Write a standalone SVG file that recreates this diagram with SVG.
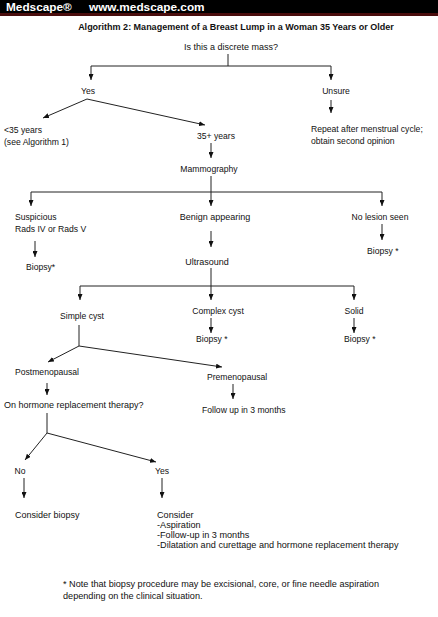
<svg xmlns="http://www.w3.org/2000/svg" width="438" height="617" viewBox="0 0 438 617">
<style>
text{font-family:"Liberation Sans",Arial,sans-serif;font-size:8.6px;fill:#111}
.m{text-anchor:middle}
.hd{font-size:11.8px;font-weight:bold;fill:#fff}
.title{font-size:9px;font-weight:bold}
.big{font-size:9px}
.lg{font-size:9.15px}
.c line,.c path{stroke:#222;stroke-width:1;fill:none}
.a{marker-end:url(#ah)}
</style>
<defs>
<marker id="ah" viewBox="0 0 6 5" refX="6" refY="2.5" markerWidth="6" markerHeight="5" markerUnits="userSpaceOnUse" orient="auto">
<path d="M0,0 L6,2.5 L0,5 z" fill="#111"/>
</marker>
</defs>
<rect width="438" height="617" fill="#fff"/>
<g id="header">
<rect x="0" y="0" width="438" height="13" fill="#000"/>
<rect x="0" y="13" width="438" height="3" fill="#4a0d0d"/>
<text class="hd" x="6" y="11">Medscape®</text>
<text class="hd" x="89" y="11">www.medscape.com</text>
</g>
<g id="title"><text class="title m" x="236" y="30">Algorithm 2: Management of a Breast Lump in a Woman 35 Years or Older</text></g>
<g class="c" id="connectors">
<line x1="228" y1="54" x2="228" y2="66"/>
<line x1="91" y1="66" x2="331" y2="66"/>
<line class="a" x1="91" y1="66" x2="91" y2="80"/>
<line class="a" x1="331" y1="66" x2="331" y2="80"/>
<line class="a" x1="87" y1="99" x2="43" y2="118"/>
<line class="a" x1="87" y1="99" x2="205" y2="125"/>
<line class="a" x1="331" y1="100" x2="331" y2="113"/>
<line class="a" x1="211" y1="143" x2="211" y2="158"/>
<line x1="211" y1="176" x2="211" y2="192"/>
<line x1="31" y1="192" x2="382" y2="192"/>
<line class="a" x1="31" y1="192" x2="31" y2="206"/>
<line class="a" x1="211" y1="192" x2="211" y2="206"/>
<line class="a" x1="382" y1="192" x2="382" y2="206"/>
<line class="a" x1="35" y1="241" x2="35" y2="257"/>
<line class="a" x1="211" y1="231" x2="211" y2="247"/>
<line class="a" x1="382" y1="224" x2="382" y2="240"/>
<line x1="211" y1="268" x2="211" y2="286"/>
<line x1="80" y1="286" x2="354" y2="286"/>
<line class="a" x1="80" y1="286" x2="80" y2="300"/>
<line class="a" x1="211" y1="286" x2="211" y2="300"/>
<line class="a" x1="354" y1="286" x2="354" y2="300"/>
<line class="a" x1="211" y1="318" x2="211" y2="333"/>
<line class="a" x1="354" y1="318" x2="354" y2="333"/>
<line x1="79" y1="325" x2="79" y2="346"/>
<line class="a" x1="79" y1="346" x2="48" y2="362"/>
<line class="a" x1="79" y1="346" x2="222" y2="367"/>
<line class="a" x1="47" y1="383" x2="47" y2="395"/>
<line class="a" x1="233" y1="384" x2="233" y2="399"/>
<line x1="47" y1="413" x2="47" y2="433"/>
<line class="a" x1="47" y1="433" x2="25" y2="460"/>
<line class="a" x1="47" y1="433" x2="156" y2="462"/>
<line class="a" x1="24" y1="478" x2="24" y2="498"/>
<line class="a" x1="162" y1="478" x2="162" y2="498"/>
</g>
<g id="n-discrete"><text class="m big" x="231" y="49.5">Is this a discrete mass?</text></g>
<g id="n-yes"><text class="m" x="88" y="94">Yes</text></g>
<g id="n-unsure"><text class="m" x="336" y="94">Unsure</text></g>
<g id="n-under35"><text x="4" y="133">&lt;35 years</text><text x="4" y="144.5">(see Algorithm 1)</text></g>
<g id="n-35plus"><text class="m" x="216" y="139">35+ years</text></g>
<g id="n-repeat"><text x="311" y="132">Repeat after menstrual cycle;</text><text x="311" y="144">obtain second opinion</text></g>
<g id="n-mammo"><text class="m" x="209" y="172">Mammography</text></g>
<g id="n-suspicious"><text x="15" y="220">Suspicious</text><text x="15" y="231.5">Rads IV or Rads V</text></g>
<g id="n-biopsy1"><text x="26" y="270">Biopsy*</text></g>
<g id="n-benign"><text class="m big" x="215" y="220">Benign appearing</text></g>
<g id="n-nolesion"><text class="m" x="380" y="220">No lesion seen</text></g>
<g id="n-biopsy2"><text x="367" y="254">Biopsy *</text></g>
<g id="n-ultrasound"><text class="m big" x="207" y="265">Ultrasound</text></g>
<g id="n-simple"><text class="m" x="82" y="319">Simple cyst</text></g>
<g id="n-complex"><text class="m" x="218" y="314">Complex cyst</text></g>
<g id="n-solid"><text class="m" x="354" y="314">Solid</text></g>
<g id="n-biopsy3"><text x="196" y="342">Biopsy *</text></g>
<g id="n-biopsy4"><text x="344" y="342">Biopsy *</text></g>
<g id="n-post"><text x="15" y="375">Postmenopausal</text></g>
<g id="n-pre"><text x="207" y="380">Premenopausal</text></g>
<g id="n-hrt"><text class="big" x="4" y="408">On hormone replacement therapy?</text></g>
<g id="n-follow"><text x="202" y="413">Follow up in 3 months</text></g>
<g id="n-no"><text class="m" x="20" y="474">No</text></g>
<g id="n-yes2"><text class="m" x="162" y="474">Yes</text></g>
<g id="n-considerbiopsy"><text class="big" x="15" y="518">Consider biopsy</text></g>
<g id="n-consider"><text class="lg" x="157" y="518">Consider</text><text class="lg" x="157" y="528">-Aspiration</text><text class="lg" x="157" y="538">-Follow-up in 3 months</text><text class="lg" x="157" y="548">-Dilatation and curettage and hormone replacement therapy</text></g>
<g id="footnote"><text class="lg" x="63" y="587">* Note that biopsy procedure may be excisional, core, or fine needle aspiration</text><text class="lg" x="63" y="599">depending on the clinical situation.</text></g>
</svg>
